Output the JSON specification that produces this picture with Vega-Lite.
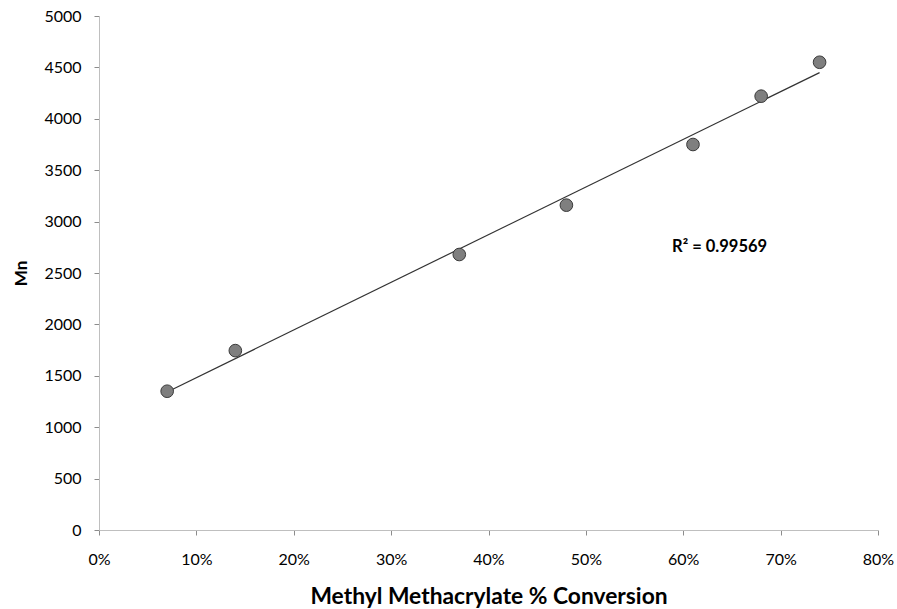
{
  "$schema": "https://vega.github.io/schema/vega-lite/v6.json",
  "width": 779,
  "height": 514,
  "autosize": "none",
  "padding": {"left": 99, "top": 16, "right": 19, "bottom": 79},
  "background": "white",
  "config": {
    "view": {"stroke": null},
    "font": "Lato",
    "axis": {"grid": false, "domainColor": "#bfbfbf", "tickColor": "#8c8c8c", "labelColor": "#000000", "labelFont": "Lato", "labelFontSize": 16, "titleFont": "Lato", "titleFontWeight": "bold", "titleColor": "#000000", "tickSize": 5}
  },
  "datasets": {
    "pts": [
      {"conv": 0.07, "mn": 1350},
      {"conv": 0.14, "mn": 1745},
      {"conv": 0.37, "mn": 2680},
      {"conv": 0.48, "mn": 3160},
      {"conv": 0.61, "mn": 3750},
      {"conv": 0.68, "mn": 4220},
      {"conv": 0.74, "mn": 4550}
    ],
    "ann": [{"label": "R² = 0.99569", "conv": 0.5885, "mn": 2750}]
  },
  "layer": [
    {
      "data": {"name": "pts"},
      "transform": [{"regression": "mn", "on": "conv"}],
      "mark": {"type": "line", "color": "#333333", "strokeWidth": 1.2},
      "encoding": {
        "x": {"field": "conv", "type": "quantitative", "scale": {"domain": [0, 0.8], "nice": false},
          "axis": {"values": [0, 0.1, 0.2, 0.3, 0.4, 0.5, 0.6, 0.7, 0.8], "format": ".0%", "title": "Methyl Methacrylate % Conversion", "titleFontSize": 22.8, "labelPadding": 16, "titlePadding": 18, "labelFlush": false}},
        "y": {"field": "mn", "type": "quantitative", "scale": {"domain": [0, 5000], "nice": false},
          "axis": {"values": [0, 500, 1000, 1500, 2000, 2500, 3000, 3500, 4000, 4500, 5000], "format": "d", "title": "Mn", "titleFontSize": 17, "labelPadding": 13, "titlePadding": 13}}
      }
    },
    {
      "data": {"name": "pts"},
      "mark": {"type": "point", "filled": true, "fill": "#7f7f7f", "stroke": "#3a3a3a", "strokeWidth": 1, "size": 160, "opacity": 1, "fillOpacity": 1},
      "encoding": {
        "x": {"field": "conv", "type": "quantitative"},
        "y": {"field": "mn", "type": "quantitative"}
      }
    },
    {
      "data": {"name": "ann"},
      "mark": {"type": "text", "align": "left", "baseline": "middle", "fontWeight": "bold", "fontSize": 16.5, "font": "Lato", "color": "#000000"},
      "encoding": {
        "x": {"field": "conv", "type": "quantitative"},
        "y": {"field": "mn", "type": "quantitative"},
        "text": {"field": "label"}
      }
    }
  ]
}
